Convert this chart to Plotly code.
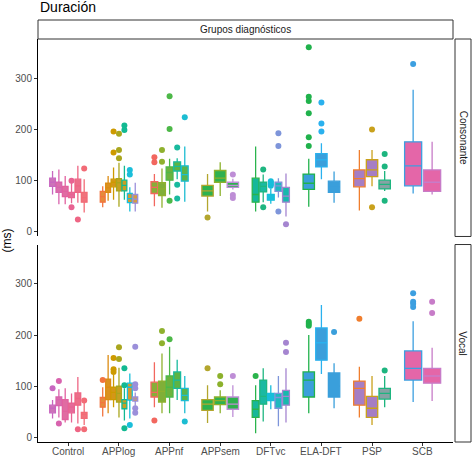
import plotly.graph_objects as go
from plotly.subplots import make_subplots

# groups on the x axis
groups = ["Control", "APPlog", "APPnf", "APPsem", "DFTvc", "ELA-DFT", "PSP", "SCB"]
y_ticks = [0, 100, 200, 300]

# Consonante facet: box statistics per group (one value per box)
cons_q1 = [[89, 77, 69, 67, 77, 58], [58, 77, 88, 80, 80, 57, 56], [75, 71, 101, 119, 99],
           [70, 97, 87], [58, 78, 62, 79, 58], [83, 127, 77], [88, 108, 84], [90, 79]]
cons_med = [[97, 87, 79, 73, 90, 67], [69, 86, 97, 96, 91, 65, 64], [87, 84, 116, 128, 112],
            [80, 105, 91], [73, 89, 67, 90, 70], [95, 141, 88], [104, 121, 93], [129, 97]]
cons_q3 = [[105, 97, 89, 77, 103, 77], [79, 95, 103, 104, 101, 75, 73], [98, 96, 127, 137, 129],
           [91, 120, 97], [105, 97, 73, 97, 87], [113, 153, 99], [121, 141, 101], [176, 121]]
cons_lo = [[73, 54, 54, 56, 57, 38], [48, 61, 63, 49, 63, 40, 40], [50, 47, 73, 103, 59],
           [40, 70, 83], [40, 58, 55, 67, 30], [49, 103, 57], [42, 89, 80], [75, 73]]
cons_hi = [[119, 122, 109, 103, 129, 103], [89, 109, 126, 135, 129, 87, 96], [113, 124, 143, 144, 167],
           [113, 136, 104], [167, 112, 85, 105, 114], [143, 173, 118], [160, 160, 119], [278, 176]]
cons_out = [[[], [], [], [100, 48], [24], [124]],
            [[], [], [196, 155], [192, 160, 144], [208, 199], [121, 112], []],
            [[146, 136], [160, 137], [265, 201, 61], [165, 92, 65], [224]],
            [[28], [], [112, 72, 66]],
            [[], [122, 48], [90, 93, 96, 99], [193, 168, 40], [15]],
            [[361, 264, 256, 232, 185, 168], [253, 212, 196], []],
            [[], [200, 48], [152, 128, 61]],
            [[328], []]]

# Vocal facet
voc_q1 = [[48, 62, 35, 48, 63, 37], [59, 74, 74, 69, 56, 73, 71], [79, 69, 79, 96, 72],
          [53, 64, 55], [39, 65, 72, 57, 63], [79, 151, 79], [63, 39, 75], [112, 106]]
voc_med = [[57, 74, 51, 59, 76, 45], [68, 98, 88, 86, 67, 98, 75], [88, 90, 98, 112, 82],
           [65, 72, 65], [55, 80, 80, 78, 80], [112, 185, 100], [96, 57, 86], [135, 120]]
voc_q3 = [[63, 79, 74, 67, 87, 49], [78, 114, 98, 100, 74, 106, 79], [108, 110, 120, 128, 96],
          [74, 79, 79], [72, 112, 86, 86, 92], [128, 214, 126], [110, 80, 96], [169, 135]]
voc_lo = [[37, 39, 29, 29, 27, 24], [41, 47, 59, 39, 33, 37, 62], [59, 47, 47, 73, 47],
          [28, 47, 40], [8, 31, 55, 22, 29], [47, 124, 57], [39, 24, 59], [69, 71]]
voc_hi = [[73, 94, 96, 86, 118, 67], [98, 161, 122, 136, 96, 125, 88], [147, 164, 177, 152, 120],
          [102, 92, 102], [102, 135, 102, 120, 135], [200, 259, 145], [138, 120, 120], [227, 175]]
voc_out = [[[96], [110, 27], [], [], [16], [72, 16]],
           [[112], [], [155, 133, 128], [176, 153], [135, 102, 18], [24], [177, 104, 96, 57, 48]],
           [[33], [208, 184], [192], [], [31]],
           [[135], [120, 104], [120]],
           [[120], [], [], [], [185, 167]],
           [[226, 222, 218], [], [206]],
           [[232], [], [131]],
           [[282, 265, 261, 255], [265, 243]]]

# box styles
fills = [["#CC74B8", "#D96EAA", "#E06CA2", "#E56B9A", "#EC6E8A", "#F0727C"],
         ["#E58B3B", "#DA9120", "#D49618", "#C6A020", "#C99E22", "#D49A30", "#D59C40"],
         ["#88AE38", "#80AF38", "#6CB23E", "#5DB444", "#58B54C"],
         ["#2DB24E", "#2FB150", "#2DB14E"],
         ["#17B79A", "#1AB9A2", "#19BEDA", "#1DB9BF", "#17B9AD"],
         ["#3A9FDB", "#3A9FDB", "#3A9FDB"],
         ["#A67EC4", "#A67EC4", "#86A2A4"],
         ["#E466A8", "#E466A8"]]
lines = [["#C867C0", "#D863AE", "#E2619F", "#E86392", "#EE6584", "#F26B76"],
         ["#F2743F", "#DC8B12", "#CD9A00", "#A9A61E", "#12B992", "#1ABEDA", "#9B8FDA"],
         ["#F2675F", "#8FB12E", "#4DB848", "#19BA9E", "#1CBDD2"],
         ["#B3A62E", "#8CB12C", "#BE8ED6"],
         ["#2AB44C", "#1EB680", "#16BEDB", "#7E95DA", "#A585D0"],
         ["#20B24C", "#2AB1EE", "#3A9FDB"],
         ["#F07E2E", "#C9A11C", "#1DB57F"],
         ["#3C9FE0", "#C77CC8"]]

FONT = "Liberation Sans, Arial, sans-serif"
dodge = 0.75

fig = make_subplots(rows=2, cols=1, shared_xaxes=True, vertical_spacing=0.02)

facets = [
    (1, cons_q1, cons_med, cons_q3, cons_lo, cons_hi, cons_out),
    (2, voc_q1, voc_med, voc_q3, voc_lo, voc_hi, voc_out),
]

for row, q1, med, q3, lo, hi, outs in facets:
    for g in range(len(groups)):
        n = len(q1[g])
        slot = dodge / n
        for j in range(n):
            pos = (g + 1) - dodge / 2 + slot * (j + 0.5)
            col = lines[g][j]
            fig.add_trace(go.Box(
                x=[pos], q1=[q1[g][j]], median=[med[g][j]], q3=[q3[g][j]],
                lowerfence=[lo[g][j]], upperfence=[hi[g][j]],
                width=slot * 0.9, whiskerwidth=0,
                fillcolor=fills[g][j], line=dict(color=col, width=1.3),
                boxpoints=False, showlegend=False, hoverinfo="skip",
            ), row=row, col=1)
            if outs[g][j]:
                fig.add_trace(go.Scatter(
                    x=[pos] * len(outs[g][j]), y=outs[g][j], mode="markers",
                    marker=dict(color=col, size=6, line=dict(width=0)),
                    showlegend=False, hoverinfo="skip",
                ), row=row, col=1)

yax = dict(range=[-9, 377], tickvals=y_ticks, ticks="outside", ticklen=3, tickwidth=1,
           tickcolor="#333333", showline=True, linecolor="black", linewidth=1,
           showgrid=False, zeroline=False, automargin=False,
           tickfont=dict(size=10, color="#4D4D4D", family=FONT))
fig.update_yaxes(**yax)
fig.update_xaxes(range=[0.4, 8.6], tickvals=list(range(1, 9)),
                 showgrid=False, zeroline=False, automargin=False, showticklabels=False)
fig.update_xaxes(showline=False, ticks="", row=1, col=1)
fig.update_xaxes(showline=True, linecolor="black", linewidth=1, ticks="outside",
                 ticklen=3, tickcolor="#333333", row=2, col=1)

H = 403.0
W = 415.0
top_dom = fig.layout.yaxis.domain
bot_dom = fig.layout.yaxis2.domain

shapes = [
    dict(type="rect", xref="paper", yref="paper", x0=0, x1=1, y0=1.0, y1=1 + 19 / H,
         line=dict(color="#333333", width=1), fillcolor="white"),
    dict(type="rect", xref="paper", yref="paper", x0=1 + 2 / W, x1=1 + 18 / W,
         y0=top_dom[0], y1=top_dom[1], line=dict(color="#333333", width=1), fillcolor="white"),
    dict(type="rect", xref="paper", yref="paper", x0=1 + 2 / W, x1=1 + 18 / W,
         y0=bot_dom[0], y1=bot_dom[1], line=dict(color="#333333", width=1), fillcolor="white"),
]

annotations = [
    dict(text="Grupos diagnósticos", xref="paper", yref="paper", x=0.5, y=1 + 9.5 / H,
         showarrow=False, font=dict(size=10, color="#1A1A1A", family=FONT),
         xanchor="center", yanchor="middle"),
    dict(text="Consonante", xref="paper", yref="paper", x=1 + 10 / W,
         y=(top_dom[0] + top_dom[1]) / 2, textangle=90, showarrow=False,
         font=dict(size=10, color="#1A1A1A", family=FONT), xanchor="center", yanchor="middle"),
    dict(text="Vocal", xref="paper", yref="paper", x=1 + 10 / W,
         y=(bot_dom[0] + bot_dom[1]) / 2, textangle=90, showarrow=False,
         font=dict(size=10, color="#1A1A1A", family=FONT), xanchor="center", yanchor="middle"),
    dict(text="Duración", xref="paper", yref="paper", x=0, y=1 + 32 / H,
         showarrow=False, font=dict(size=14, color="black", family=FONT),
         xanchor="left", yanchor="middle"),
    dict(text="(ms)", xref="paper", yref="paper", x=-32 / W, y=0.5, textangle=-90,
         showarrow=False, font=dict(size=12, color="black", family=FONT),
         xanchor="center", yanchor="middle"),
]

# category labels under the bottom panel
for i, name in enumerate(groups):
    annotations.append(dict(text=name, xref="x2", yref="paper", x=i + 1, y=-9.5 / H,
                            showarrow=False, font=dict(size=10, color="#4D4D4D", family=FONT),
                            xanchor="center", yanchor="middle"))

fig.update_layout(
    width=473, height=458,
    margin=dict(l=38, r=20, t=39, b=16),
    plot_bgcolor="white", paper_bgcolor="white",
    boxmode="overlay",
    shapes=shapes, annotations=annotations,
    font=dict(family=FONT),
)

fig.write_html("out.html", config={"displayModeBar": False},
               post_script="document.body.style.margin='0';")
